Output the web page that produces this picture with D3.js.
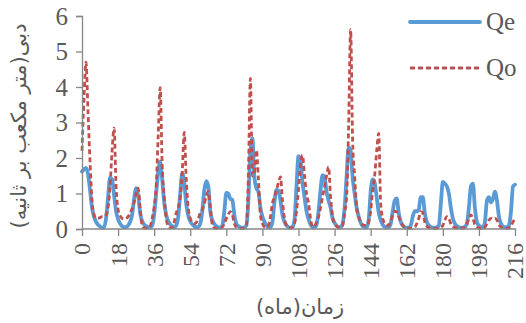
<!DOCTYPE html>
<html>
<head>
<meta charset="utf-8">
<script src="https://cdn.jsdelivr.net/npm/d3@7"></script>
<style>
  html, body { margin: 0; padding: 0; background: #fff; }
  svg { display: block; }
</style>
</head>
<body>
<svg id="chart" width="526" height="323"></svg>
<script>
// Monthly discharge (m³/s): estimated (Qe) and observed (Qo), months 0..216
const qe = [
  1.62,1.68,1.72,1.55,1.10,0.60,0.35,0.20,0.12,0.07,0.04,0.05,0.30,0.90,1.45,1.40,0.95,0.50,0.28,0.15,
  0.08,0.05,0.05,0.10,0.20,0.40,0.85,1.15,0.95,0.45,0.22,0.13,0.08,0.05,0.05,0.10,0.40,1.00,1.60,1.90,
  1.40,0.75,0.40,0.22,0.13,0.08,0.05,0.10,0.35,1.00,1.58,1.30,0.70,0.38,0.22,0.13,0.08,0.05,0.06,0.15,
  0.50,1.10,1.35,1.20,0.50,0.25,0.14,0.08,0.05,0.04,0.10,0.50,1.02,1.00,0.85,0.82,0.40,0.15,0.08,0.05,
  0.04,0.04,0.10,0.80,2.20,2.55,1.45,1.15,1.05,0.60,0.35,0.20,0.10,0.05,0.05,0.20,0.75,1.10,1.08,0.80,
  0.40,0.20,0.10,0.05,0.04,0.06,0.25,1.20,2.05,1.90,1.30,0.90,0.50,0.28,0.12,0.06,0.05,0.12,0.50,1.10,
  1.52,1.45,1.05,0.80,0.60,0.30,0.17,0.09,0.05,0.05,0.15,0.60,1.50,2.30,2.20,1.45,1.00,0.60,0.35,0.18,
  0.08,0.05,0.05,0.25,1.05,1.40,1.30,0.90,0.47,0.25,0.12,0.06,0.04,0.05,0.15,0.50,0.80,0.86,0.45,0.20,
  0.10,0.05,0.04,0.04,0.10,0.35,0.50,0.50,0.55,0.90,0.90,0.45,0.20,0.10,0.06,0.04,0.04,0.05,0.10,0.70,
  1.33,1.28,1.20,1.00,0.60,0.30,0.15,0.08,0.05,0.04,0.04,0.06,0.15,0.60,1.20,1.28,0.60,0.20,0.10,0.05,
  0.05,0.20,0.80,0.90,0.75,0.85,1.05,0.80,0.35,0.15,0.07,0.05,0.05,0.10,0.50,1.20,1.25
];
const qo = [
  2.20,3.70,4.70,3.30,1.90,0.80,0.40,0.30,0.30,0.32,0.35,0.35,0.40,0.60,1.20,2.20,2.84,1.20,0.55,0.38,
  0.30,0.28,0.30,0.35,0.45,0.58,0.75,1.00,1.15,0.60,0.10,0.03,0.02,0.03,0.08,0.30,0.63,1.20,2.60,3.98,
  1.80,0.90,0.30,0.08,0.03,0.05,0.20,0.45,0.60,0.90,1.60,2.72,1.40,0.60,0.30,0.20,0.15,0.18,0.30,0.45,
  0.55,0.70,0.95,1.05,0.60,0.12,0.03,0.02,0.02,0.03,0.05,0.15,0.30,0.42,0.49,0.40,0.15,0.05,0.03,0.02,
  0.02,0.03,0.10,1.50,4.24,1.50,1.60,2.22,1.40,0.40,0.15,0.06,0.05,0.10,0.35,0.73,0.90,1.10,1.30,1.47,
  0.80,0.30,0.10,0.04,0.03,0.05,0.15,0.50,1.10,1.80,2.08,1.50,1.00,0.73,0.30,0.06,0.08,0.20,0.35,0.60,
  0.90,1.20,1.50,1.75,0.90,0.35,0.15,0.08,0.05,0.05,0.10,0.45,0.90,2.90,5.62,2.50,1.50,0.60,0.35,0.20,
  0.12,0.10,0.10,0.20,0.50,1.10,1.50,2.20,2.69,0.73,0.30,0.15,0.10,0.12,0.20,0.40,0.50,0.48,0.35,0.20,
  0.10,0.05,0.02,0.02,0.02,0.03,0.05,0.15,0.30,0.49,0.45,0.20,0.08,0.04,0.02,0.02,0.02,0.02,0.03,0.05,
  0.10,0.25,0.35,0.30,0.15,0.07,0.04,0.03,0.02,0.02,0.03,0.05,0.15,0.30,0.40,0.30,0.12,0.05,0.03,0.02,
  0.02,0.05,0.15,0.25,0.30,0.28,0.30,0.25,0.12,0.05,0.03,0.02,0.02,0.03,0.08,0.20,0.30
];
const months = d3.range(qe.length);
const xTicks = d3.range(0, 217, 18);
const yTicks = [0, 1, 2, 3, 4, 5, 6];
const seriesNames = ["Qe", "Qo"];
const xTitle = "زمان(ماه)";
const yTitle = "دبی(متر مکعب بر ثانیه)";

const svg = d3.select("#chart");
const x = d3.scaleLinear().domain([0, 216]).range([82, 515]);
const y = d3.scaleLinear().domain([0, 6]).range([229, 16]);

const axisColor = "#868686";
const textColor = "#595959";
const serif = "Liberation Serif";
const arabicFont = "DejaVu Sans";
const blue = "#5B9BD5";
const red = "#C0504D";

// Series lines
const line = d3.line().x((d, i) => x(months[i])).y(d => y(d)).curve(d3.curveMonotoneX);
svg.append("path").datum(qe)
  .attr("d", line).attr("fill", "none")
  .attr("stroke", blue).attr("stroke-width", 3.8)
  .attr("stroke-linejoin", "round").attr("stroke-linecap", "round");
svg.append("path").datum(qo)
  .attr("d", line).attr("fill", "none")
  .attr("stroke", red).attr("stroke-width", 2.8)
  .attr("stroke-dasharray", "5,3");

// Y axis
const yAxis = d3.axisLeft(y).tickValues(yTicks).tickSize(6).tickPadding(8).tickFormat(d3.format("d"));
const gy = svg.append("g").attr("transform", "translate(82,0)").call(yAxis);
gy.select(".domain").attr("stroke", axisColor).attr("stroke-width", 1.3);
gy.selectAll(".tick line").attr("stroke", axisColor).attr("stroke-width", 1.3);
gy.selectAll(".tick text").attr("fill", textColor)
  .style("font-family", serif).style("font-size", "25px");

// X axis
const xAxis = d3.axisBottom(x).tickValues(xTicks).tickSize(7).tickFormat(d3.format("d"));
const gx = svg.append("g").attr("transform", "translate(0,229)").call(xAxis);
gx.select(".domain").attr("stroke", axisColor).attr("stroke-width", 1.3)
  .attr("d", "M82,0H516");
gx.selectAll(".tick line").attr("stroke", axisColor).attr("stroke-width", 1.3);
gx.selectAll(".tick text").attr("fill", textColor)
  .style("font-family", serif).style("font-size", "24px")
  .attr("text-anchor", "end")
  .attr("transform", "rotate(-90)")
  .attr("x", -14).attr("y", 0).attr("dy", "0.33em");

// Axis titles
svg.append("text")
  .attr("x", 300).attr("y", 314)
  .attr("text-anchor", "middle")
  .attr("fill", textColor)
  .style("font-family", arabicFont).style("font-size", "21px")
  .text(xTitle);
svg.append("text")
  .attr("transform", "translate(26,126) rotate(-90)")
  .attr("text-anchor", "middle")
  .attr("fill", textColor)
  .style("font-family", arabicFont).style("font-size", "21px")
  .text(yTitle);

// Legend
const legend = svg.append("g");
const legendRows = [
  { name: seriesNames[0], color: blue, width: 3.8, dash: null, y: 22 },
  { name: seriesNames[1], color: red, width: 2.8, dash: "5,3", y: 68 }
];
legendRows.forEach(r => {
  legend.append("line")
    .attr("x1", 410).attr("x2", 480).attr("y1", r.y).attr("y2", r.y)
    .attr("stroke", r.color).attr("stroke-width", r.width)
    .attr("stroke-dasharray", r.dash)
    .attr("stroke-linecap", r.dash ? "butt" : "round");
  legend.append("text")
    .attr("x", 486).attr("y", r.y + 8)
    .attr("fill", textColor)
    .style("font-family", serif).style("font-size", "25px")
    .text(r.name);
});
</script>
</body>
</html>
